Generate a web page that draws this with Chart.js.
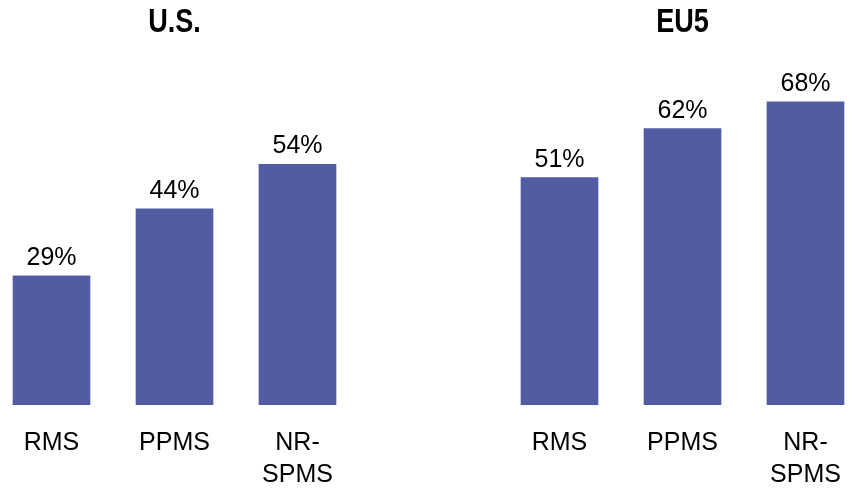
<!DOCTYPE html>
<html>
<head>
<meta charset="utf-8">
<script src="https://cdn.jsdelivr.net/npm/chart.js@4.4.1/dist/chart.umd.min.js"></script>
<style>
  html, body { margin: 0; padding: 0; background: #fff; overflow: hidden; width: 855px; height: 488px; }
  .panel { position: absolute; top: 0; width: 369px; height: 488px; }
  #panelUS { left: -10px; }
  #panelEU { left: 498px; }
</style>
</head>
<body>
<div class="panel" id="panelUS"><canvas id="graficoUS"></canvas></div>
<div class="panel" id="panelEU"><canvas id="graficoEU"></canvas></div>
<script>
//---------------
// Datos
//---------------
const categorias = [['RMS'], ['PPMS'], ['NR-', 'SPMS']];
const valoresUS = [29, 44, 54];
const valoresEU = [51, 62, 68];
const tituloUS = 'U.S.';
const tituloEU = 'EU5';

const colorBarra = '#525CA3';
const fuenteTexto = "'Liberation Sans', Arial, sans-serif";

//---------------
// Titulo (fuente estrecha, se comprime a mano)
//---------------
const tituloPanel = {
  id: 'tituloPanel',
  afterDraw(chart, args, opts) {
    const ctx = chart.ctx;
    const cx = (chart.chartArea.left + chart.chartArea.right) / 2;
    ctx.save();
    ctx.font = `bold 33px ${fuenteTexto}`;
    ctx.fillStyle = '#000';
    ctx.textAlign = 'center';
    ctx.textBaseline = 'alphabetic';
    ctx.translate(cx, 32);
    ctx.scale(0.82, 1);
    ctx.fillText(opts.text, 0, 0);
    ctx.restore();
  }
};

//---------------
// Etiquetas sobre las barras
//---------------
const etiquetasBarras = {
  id: 'etiquetasBarras',
  afterDatasetsDraw(chart) {
    const ctx = chart.ctx;
    const meta = chart.getDatasetMeta(0);
    ctx.save();
    ctx.font = `25px ${fuenteTexto}`;
    ctx.fillStyle = '#000';
    ctx.textAlign = 'center';
    ctx.textBaseline = 'alphabetic';
    meta.data.forEach((bar, i) => {
      ctx.fillText(chart.data.datasets[0].data[i] + '%', bar.x, bar.y - 11);
    });
    ctx.restore();
  }
};

function crearGrafico(id, valores, titulo) {
  return new Chart(document.getElementById(id), {
    type: 'bar',
    data: {
      labels: categorias,
      datasets: [{ data: valores, backgroundColor: colorBarra, barThickness: 77 }]
    },
    options: {
      responsive: true,
      maintainAspectRatio: false,
      animation: false,
      layout: { padding: { top: 60 } },
      plugins: {
        legend: { display: false },
        tooltip: { enabled: false },
        title: { display: false },
        tituloPanel: { text: titulo }
      },
      scales: {
        x: {
          grid: { display: false, drawTicks: false },
          border: { display: false },
          ticks: { color: '#000', padding: 22, font: { family: fuenteTexto, size: 25, lineHeight: 1.28 } },
          afterFit(scale) { scale.height = 83; }
        },
        y: { display: false, min: 0, max: 77.4 }
      }
    },
    plugins: [etiquetasBarras, tituloPanel]
  });
}

const graficoUS = crearGrafico('graficoUS', valoresUS, tituloUS);
const graficoEU = crearGrafico('graficoEU', valoresEU, tituloEU);
</script>
</body>
</html>
